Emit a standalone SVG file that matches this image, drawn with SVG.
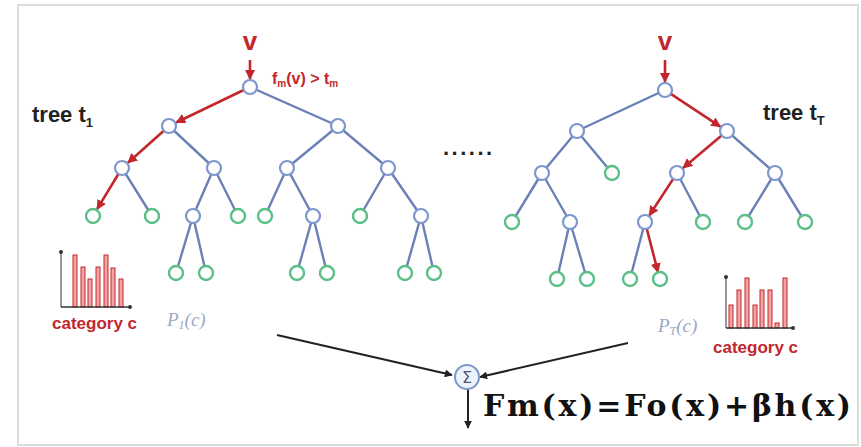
<svg xmlns="http://www.w3.org/2000/svg" width="861" height="447" viewBox="0 0 861 447">
<style>
.e{stroke:#6b80b6;stroke-width:2.4;fill:none;stroke-linecap:round}
.r{stroke:#c1272d;stroke-width:2.6;fill:none;marker-end:url(#ra)}
.n{fill:#fff;stroke:#7d97cc;stroke-width:2.2}
.l{fill:#fff;stroke:#5cbf87;stroke-width:2.4}
.lbl{font-family:"Liberation Sans",Arial,sans-serif;font-weight:bold;fill:#222}
.red{font-family:"Liberation Sans",Arial,sans-serif;font-weight:bold;fill:#c1272d}
.pc{font-family:"Liberation Serif","Times New Roman",serif;font-style:italic;fill:#9aa8c4;font-size:19px}
.bar{fill:#f3a3a3;stroke:#c1272d;stroke-width:1}
.ax{stroke:#777;stroke-width:1.5}
.k{stroke:#222;stroke-width:2;fill:none}
</style>
<defs>
<marker id="ra" viewBox="0 0 10 10" refX="9" refY="5" markerWidth="10" markerHeight="10" markerUnits="userSpaceOnUse" orient="auto">
<path d="M0,0 L10,5 L0,10 z" fill="#c1272d"/>
</marker>
<marker id="ka" viewBox="0 0 10 10" refX="9" refY="5" markerWidth="8" markerHeight="8" markerUnits="userSpaceOnUse" orient="auto">
<path d="M0,0 L10,5 L0,10 z" fill="#222"/>
</marker>
</defs>
<rect x="0" y="0" width="861" height="447" fill="#fff"/>
<rect x="18" y="5" width="840" height="440" fill="#fff" stroke="#dcdcdc" stroke-width="2"/>

<g id="connectors">
<path class="e" d="M250,87 L338,126 M169,126 L214,168 M338,126 L287,168 M338,126 L388,168 M122,168 L152,216 M214,168 L193,216 M214,168 L238,216 M287,168 L265,216 M287,168 L313,216 M388,168 L360,216 M388,168 L421,216 M193,216 L176,273 M193,216 L206,273 M313,216 L297,273 M313,216 L327,273 M421,216 L405,273 M421,216 L434,273"/>
<path class="r" d="M250,60 L250,79"/>
<path class="r" d="M243.7,90 L176.2,122.5"/>
<path class="r" d="M163.8,130.7 L128,162.7"/>
<path class="r" d="M118.4,174 L97.1,209.2"/>
<path class="e" d="M665,90 L577,131 M577,131 L542,173 M577,131 L612,173 M727,131 L775,173 M542,173 L512,222 M542,173 L570,222 M677,173 L703,222 M775,173 L745,222 M775,173 L805,222 M570,222 L557,279 M570,222 L587,279 M645,222 L630,279"/>
<path class="r" d="M665,60 L665,82"/>
<path class="r" d="M670.8,93.9 L720.3,126.6"/>
<path class="r" d="M721.6,135.5 L683.1,167.9"/>
<path class="r" d="M673.2,178.9 L649.4,215.3"/>
<path class="r" d="M646.8,228.8 L658,272.3"/>
<path class="k" d="M277,335 L452,375" marker-end="url(#ka)"/>
<path class="k" d="M628,343 L480,377" marker-end="url(#ka)"/>
<path class="k" d="M468,390 L468,428" marker-end="url(#ka)"/>
</g>

<g id="tree1">
<circle class="n" cx="250" cy="87" r="7"/>
<circle class="n" cx="169" cy="126" r="7"/>
<circle class="n" cx="338" cy="126" r="7"/>
<circle class="n" cx="122" cy="168" r="7"/>
<circle class="n" cx="214" cy="168" r="7"/>
<circle class="n" cx="287" cy="168" r="7"/>
<circle class="n" cx="388" cy="168" r="7"/>
<circle class="l" cx="93" cy="216" r="7"/>
<circle class="l" cx="152" cy="216" r="7"/>
<circle class="n" cx="193" cy="216" r="7"/>
<circle class="l" cx="238" cy="216" r="7"/>
<circle class="l" cx="265" cy="216" r="7"/>
<circle class="n" cx="313" cy="216" r="7"/>
<circle class="l" cx="360" cy="216" r="7"/>
<circle class="n" cx="421" cy="216" r="7"/>
<circle class="l" cx="176" cy="273" r="7"/>
<circle class="l" cx="206" cy="273" r="7"/>
<circle class="l" cx="297" cy="273" r="7"/>
<circle class="l" cx="327" cy="273" r="7"/>
<circle class="l" cx="405" cy="273" r="7"/>
<circle class="l" cx="434" cy="273" r="7"/>
</g>

<g id="treeT">
<circle class="n" cx="665" cy="90" r="7"/>
<circle class="n" cx="577" cy="131" r="7"/>
<circle class="n" cx="727" cy="131" r="7"/>
<circle class="n" cx="542" cy="173" r="7"/>
<circle class="l" cx="612" cy="173" r="7"/>
<circle class="n" cx="677" cy="173" r="7"/>
<circle class="n" cx="775" cy="173" r="7"/>
<circle class="l" cx="512" cy="222" r="7"/>
<circle class="n" cx="570" cy="222" r="7"/>
<circle class="n" cx="645" cy="222" r="7"/>
<circle class="l" cx="703" cy="222" r="7"/>
<circle class="l" cx="745" cy="222" r="7"/>
<circle class="l" cx="805" cy="222" r="7"/>
<circle class="l" cx="557" cy="279" r="7"/>
<circle class="l" cx="587" cy="279" r="7"/>
<circle class="l" cx="630" cy="279" r="7"/>
<circle class="l" cx="660" cy="279" r="7"/>
</g>

<g id="labels">
<text class="red" x="250" y="50" font-size="26" text-anchor="middle">v</text>
<text class="red" x="665" y="50" font-size="26" text-anchor="middle">v</text>
<text class="red" x="272" y="84" font-size="16">f<tspan font-size="10" dy="3">m</tspan><tspan dy="-3">(v) &gt; t</tspan><tspan font-size="10" dy="3">m</tspan></text>
<text class="lbl" x="32" y="122" font-size="22">tree t<tspan font-size="13" dy="5">1</tspan></text>
<text class="lbl" x="763" y="120" font-size="22">tree t<tspan font-size="13" dy="5">T</tspan></text>
<text class="lbl" x="443" y="155" font-size="22" letter-spacing="2.5">......</text>
<text class="pc" x="167" y="326">P<tspan font-size="12" dy="3">1</tspan><tspan dy="-3">(c)</tspan></text>
<text class="pc" x="658" y="332">P<tspan font-size="12" dy="3">T</tspan><tspan dy="-3">(c)</tspan></text>
<text class="red" x="52" y="329" font-size="17">category c</text>
<text class="red" x="713" y="353" font-size="17">category c</text>
</g>

<g id="hist1">
<line class="ax" x1="61" y1="252" x2="61" y2="307"/>
<circle cx="61" cy="252" r="2" fill="#333"/>
<rect class="bar" x="73" y="255" width="4" height="52"/>
<rect class="bar" x="81" y="267" width="4" height="40"/>
<rect class="bar" x="88" y="279" width="4" height="28"/>
<rect class="bar" x="96" y="267" width="4" height="40"/>
<rect class="bar" x="104" y="255" width="4" height="52"/>
<rect class="bar" x="111" y="268" width="4" height="39"/>
<rect class="bar" x="119" y="279" width="4" height="28"/>
<line x1="61" y1="307" x2="130" y2="307" stroke="#333" stroke-width="1.5"/>
<circle cx="130" cy="307" r="2" fill="#333"/>
</g>

<g id="histT">
<line class="ax" x1="726" y1="277" x2="726" y2="328"/>
<circle cx="726" cy="277" r="2" fill="#333"/>
<rect class="bar" x="729" y="305" width="4" height="23"/>
<rect class="bar" x="737" y="290" width="4" height="38"/>
<rect class="bar" x="745" y="278" width="4" height="50"/>
<rect class="bar" x="753" y="305" width="4" height="23"/>
<rect class="bar" x="760" y="290" width="4" height="38"/>
<rect class="bar" x="768" y="290" width="4" height="38"/>
<rect class="bar" x="775" y="323" width="4" height="5"/>
<rect class="bar" x="783" y="278" width="4" height="50"/>
<line x1="726" y1="328" x2="793" y2="328" stroke="#333" stroke-width="1.5"/>
<circle cx="793" cy="328" r="2" fill="#333"/>
</g>

<g id="sum">
<circle cx="467" cy="377" r="12" fill="#eef3fb" stroke="#7d97cc" stroke-width="2"/>
<text x="467" y="383" font-family="'DejaVu Sans',sans-serif" font-size="16" fill="#4a5a80" text-anchor="middle">Σ</text>
</g>

<g id="formula">
<text x="483" y="416" font-family="'DejaVu Serif','Liberation Serif',serif" font-weight="bold" font-size="30" fill="#111" textLength="368" lengthAdjust="spacing">Fm(x)=Fo(x)+βh(x)</text>
</g>
</svg>
